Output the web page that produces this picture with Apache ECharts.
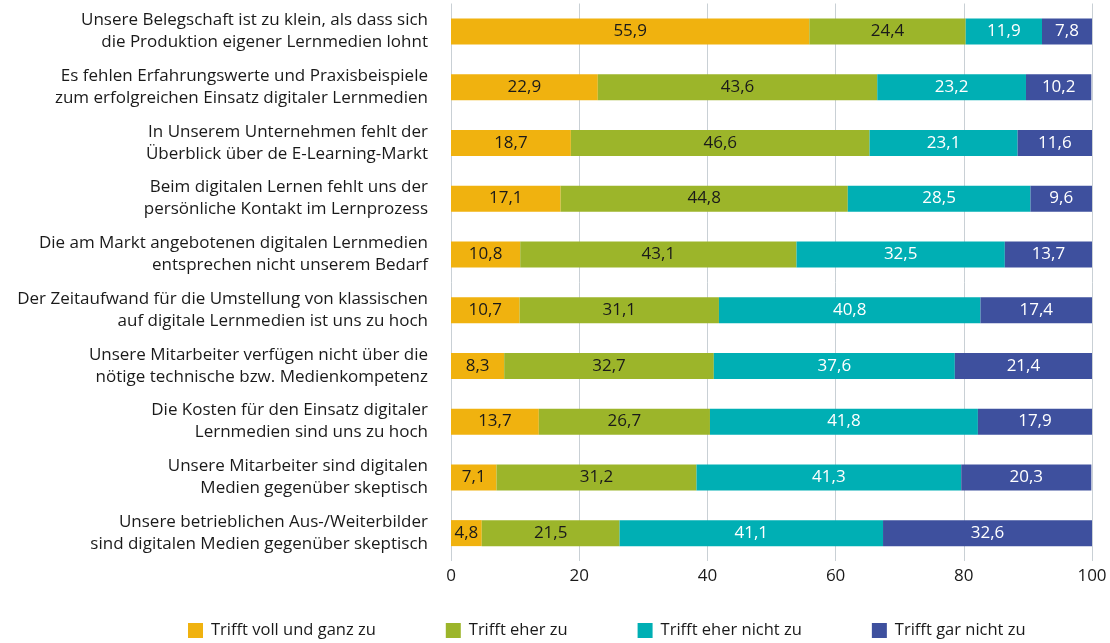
<!DOCTYPE html>
<html><head><meta charset="utf-8">
<script src="https://cdn.jsdelivr.net/npm/echarts@6/dist/echarts.min.js"></script>
<style>html,body{margin:0;padding:0;background:#fff}#c{width:1110px;height:643px}</style>
</head><body><div id="c"></div>
<script>
const categories = [
  "Unsere Belegschaft ist zu klein, als dass sich\ndie Produktion eigener Lernmedien lohnt",
  "Es fehlen Erfahrungswerte und Praxisbeispiele\nzum erfolgreichen Einsatz digitaler Lernmedien",
  "In Unserem Unternehmen fehlt der\nÜberblick über de E-Learning-Markt",
  "Beim digitalen Lernen fehlt uns der\npersönliche Kontakt im Lernprozess",
  "Die am Markt angebotenen digitalen Lernmedien\nentsprechen nicht unserem Bedarf",
  "Der Zeitaufwand für die Umstellung von klassischen\nauf digitale Lernmedien ist uns zu hoch",
  "Unsere Mitarbeiter verfügen nicht über die\nnötige technische bzw. Medienkompetenz",
  "Die Kosten für den Einsatz digitaler\nLernmedien sind uns zu hoch",
  "Unsere Mitarbeiter sind digitalen\nMedien gegenüber skeptisch",
  "Unsere betrieblichen Aus-/Weiterbilder\nsind digitalen Medien gegenüber skeptisch"
];
const seriesNames = ["Trifft voll und ganz zu", "Trifft eher zu", "Trifft eher nicht zu", "Trifft gar nicht zu"];
const vollUndGanz = [55.9, 22.9, 18.7, 17.1, 10.8, 10.7, 8.3, 13.7, 7.1, 4.8];
const eherZu      = [24.4, 43.6, 46.6, 44.8, 43.1, 31.1, 32.7, 26.7, 31.2, 21.5];
const eherNicht   = [11.9, 23.2, 23.1, 28.5, 32.5, 40.8, 37.6, 41.8, 41.3, 41.1];
const garNicht    = [7.8, 10.2, 11.6, 9.6, 13.7, 17.4, 21.4, 17.9, 20.3, 32.6];
const xTicks = [0, 20, 40, 60, 80, 100];

const FONT = 'Open Sans';
const colors = ['#F0B20F', '#9CB52A', '#00AFB4', '#3E509E'];
const labelColors = ['#1a1a1a', '#1a1a1a', '#ffffff', '#ffffff'];
const values = [vollUndGanz, eherZu, eherNicht, garNicht];

const chart = echarts.init(document.getElementById('c'), null, {renderer: 'canvas'});
chart.setOption({
  animation: false,
  color: colors,
  legend: {
    left: 188, top: 622, padding: 0,
    itemWidth: 15, itemHeight: 15, itemGap: 70,
    icon: 'rect',
    textStyle: {fontFamily: FONT, fontSize: 16.5, color: '#1a1a1a', padding: [0,0,0,3]},
    data: seriesNames
  },
  grid: {left: 451, right: 18, top: 3.5, bottom: 82, containLabel: false},
  xAxis: {
    type: 'value', min: xTicks[0], max: xTicks[xTicks.length-1], interval: 20,
    axisLine: {show: false}, axisTick: {show: false},
    axisLabel: {fontFamily: FONT, fontSize: 17, color: '#1a1a1a', margin: 7},
    splitLine: {show: true, lineStyle: {color: '#c9d0d5', width: 1}}
  },
  yAxis: {
    type: 'category', data: categories, inverse: true,
    axisLine: {show: false}, axisTick: {show: false},
    axisLabel: {fontFamily: FONT, fontSize: 17, color: '#1a1a1a', margin: 23, lineHeight: 22, align: 'right'}
  },
  series: seriesNames.map((n, i) => ({
    name: n, type: 'bar', stack: 'total', barWidth: 26,
    data: values[i],
    label: {
      show: true, position: 'inside',
      fontFamily: FONT, fontSize: 17, color: labelColors[i],
      formatter: p => String(p.value).replace('.', ',')
    }
  }))
});
</script></body></html>
